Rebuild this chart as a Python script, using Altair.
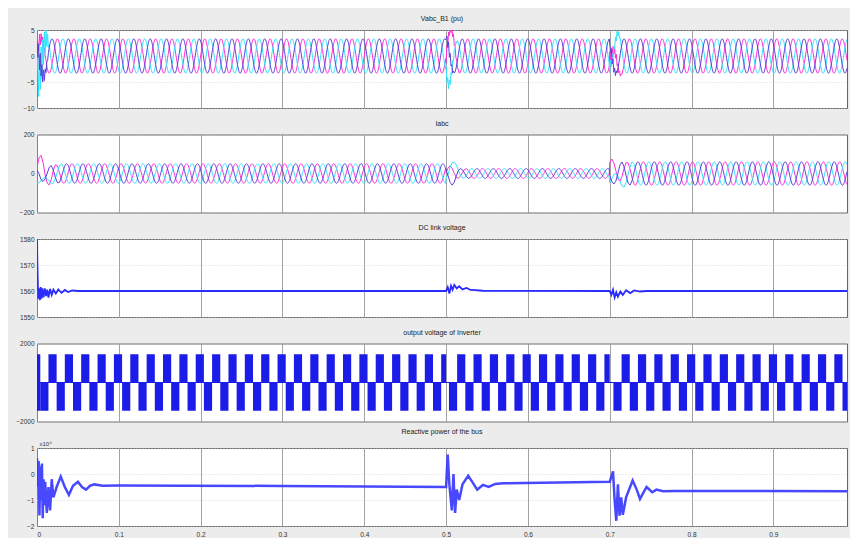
import numpy as np
import pandas as pd
import altair as alt

# ---------------- common ----------------
F_HZ = 50.0
T_END = 0.99
x_ticks = [0, 0.1, 0.2, 0.3, 0.4, 0.5, 0.6, 0.7, 0.8, 0.9]
phase_names = ["a", "b", "c"]
phase_colors = ["#ff2bd6", "#2fe3ff", "#5b3fd9"]   # magenta, cyan, purple
phase_shift_deg = [0.0, -120.0, 120.0]
event_times = [0.0, 0.5, 0.7]

# ---------------- panel 1: Vabc_B1 (pu) ----------------
v_title = "Vabc_B1 (pu)"
v_ticks = [5, 0, -5, -10]
v_seg_start = [0.0, 0.5, 0.7]
v_seg_amp = [3.3, 3.3, 3.3]
v_seg_phase = [0.0, -25.0, 15.0]
v_burst_step = 0.001
v_dev_a = [[0, 1.0, -1.0, 1.5, -1.0, 1.0, -0.5, 1.0, -0.5, 0.5, 0, 0.3, 0, 0, 0, 0, 0],
           [0, 2.5, 1.0, 3.0, 1.5, 2.8, 1.2, 2.5, 0.8, 2.0, 0.6, 1.4, 0.3, 0.8, 0.2, 0.3, 0],
           [0, -2.5, -1.0, -3.0, -1.5, -2.8, -1.2, -2.5, -0.8, -2.0, -0.6, -1.4, -0.3, -0.8, -0.2, -0.3, 0]]
v_dev_b = [[0, 3.5, -4.5, 3.2, -4.0, 3.4, -3.8, 2.8, -3.0, 2.4, -2.2, 1.8, -1.5, 1.2, -0.8, 0.4, 0],
           [0, -2.5, -1.0, -3.0, -1.5, -2.8, -1.2, -2.5, -0.8, -2.0, -0.6, -1.4, -0.3, -0.8, -0.2, -0.3, 0],
           [0, 2.5, 1.0, 3.0, 1.5, 2.8, 1.2, 2.5, 0.8, 2.0, 0.6, 1.4, 0.3, 0.8, 0.2, 0.3, 0]]
v_dev_c = [[0, -2.5, 1.0, -3.0, 1.2, -2.2, 0.8, -2.0, 0.6, -1.5, 0.4, -1.0, 0.2, -0.5, 0, 0, 0],
           [0, 0.8, -0.8, 1.0, -1.0, 0.8, -0.6, 0.5, -0.4, 0.3, 0, 0, 0, 0, 0, 0, 0],
           [0, -0.8, 0.8, -1.0, 1.0, -0.8, 0.6, -0.5, 0.4, -0.3, 0, 0, 0, 0, 0, 0, 0]]

# ---------------- panel 2: Iabc ----------------
i_title = "Iabc"
i_ticks = [200, 0, -200]
i_seg_start = [0.0, 0.5, 0.7]
i_seg_amp = [50.0, 25.0, 60.0]
i_seg_phase = [40.0, 10.0, 70.0]
i_burst_step = 0.0025
i_dev_a = [[0, 30, 55, 50, 25, 0, -20, -25, -15, -5, 0, 0, 0],
           [0, 8, 15, 10, 5, 0, 0, 0, 0, 0, 0, 0, 0],
           [0, 20, 35, 40, 30, 15, 5, 0, 0, 0, 0, 0, 0]]
i_dev_b = [[0, -20, -45, -65, -70, -55, -30, -10, 0, 5, 0, 0, 0],
           [0, 20, 40, 45, 35, 20, 10, 0, 0, 0, 0, 0, 0],
           [0, -20, -45, -60, -60, -45, -25, -10, 0, 0, 0, 0, 0]]
i_dev_c = [[0, 20, 15, 5, -10, -20, -15, -5, 0, 0, 0, 0, 0],
           [0, -15, -30, -35, -25, -10, 0, 0, 0, 0, 0, 0, 0],
           [0, 10, 5, -5, -10, -5, 0, 0, 0, 0, 0, 0, 0]]

# ---------------- panel 3: DC link voltage ----------------
dc_title = "DC link voltage"
dc_ticks = [1580, 1570, 1560, 1550]
dc_t = [0, 0.0005, 0.0015, 0.0025, 0.0035, 0.0045, 0.0055, 0.0065, 0.008, 0.0095, 0.011,
        0.0125, 0.014, 0.016, 0.018, 0.02, 0.023, 0.026, 0.03, 0.034, 0.038, 0.043, 0.05,
        0.5, 0.502, 0.504, 0.506, 0.508, 0.51, 0.513, 0.516, 0.52, 0.525, 0.53, 0.536, 0.545,
        0.7, 0.702, 0.704, 0.706, 0.708, 0.71, 0.713, 0.716, 0.72, 0.725, 0.73, 0.737, 0.745, 0.99]
dc_v = [1582, 1570, 1557, 1561, 1556.5, 1561.5, 1557, 1561, 1557.5, 1561, 1558,
        1560.5, 1557.5, 1560.8, 1558.5, 1560.5, 1559, 1560.6, 1559.3, 1560.4, 1559.6, 1560.2, 1560,
        1560, 1561.5, 1559, 1562, 1560.5, 1562.3, 1561, 1561.8, 1560.6, 1561.2, 1560.4, 1560.3, 1560.1,
        1560, 1558.5, 1560.5, 1557.5, 1559.5, 1557.8, 1559.8, 1558.5, 1560.3, 1559.2, 1560.2, 1559.8, 1560, 1560]

# ---------------- panel 4: output voltage of Inverter ----------------
inv_title = "output voltage of Inverter"
inv_ticks = [2000, 0, -2000]
inv_level = 1450
inv_start_block = [0.0, 0.004]          # full-height block at switch-on
inv_seg_first = [0.004, 0.5035, 0.7045]  # first negative block of each segment
inv_seg_end = [0.5, 0.7, 0.99]
inv_half = 0.01

# ---------------- panel 5: Reactive power of the bus (x10^4) ----------------
q_title = "Reactive power of the bus"
q_ticks = [1, 0, -1, -2]
q_t = [0, 0.001, 0.002, 0.003, 0.004, 0.005, 0.006, 0.007, 0.008, 0.009, 0.010, 0.012,
       0.014, 0.016, 0.018, 0.020, 0.024, 0.029, 0.034, 0.039, 0.044, 0.05, 0.055, 0.06,
       0.065, 0.07, 0.08, 0.1, 0.3, 0.5,
       0.502, 0.504, 0.507, 0.509, 0.511, 0.513, 0.516, 0.52, 0.527, 0.533, 0.538, 0.545,
       0.552, 0.56, 0.57, 0.7,
       0.704, 0.706, 0.708, 0.710, 0.712, 0.714, 0.716, 0.72, 0.728, 0.733, 0.737, 0.745,
       0.752, 0.757, 0.765, 0.78, 0.99]
q_v = [0.6, -0.5, 0.5, -1.6, 0.3, -1.0, 0.4, -1.7, -0.2, -1.2, -0.3, -1.5,
       -0.5, -1.4, -0.2, -0.9, -0.5, -0.1, -0.5, -0.8, -0.45, -0.3, -0.5, -0.6,
       -0.45, -0.4, -0.45, -0.44, -0.46, -0.5,
       0.75, -0.4, -1.4, 0.0, -1.5, -0.6, -1.0, -0.4, -0.07, -0.35, -0.6, -0.42,
       -0.5, -0.38, -0.36, -0.3,
       0.1, -1.0, -1.8, -0.4, -1.6, -0.9, -1.57, -0.9, -0.25, -0.6, -0.96, -0.5,
       -0.7, -0.6, -0.66, -0.65, -0.66]


# ---------------- builders ----------------
def three_phase(seg_start, seg_amp, seg_phase, step, devs, dt=0.0005):
    frames = []
    base_t = np.round(np.arange(0.0, T_END + 1e-9, dt), 6)
    for k, name in enumerate(phase_names):
        mask = np.ones(base_t.shape, bool)
        ts, ds = [], []
        for j, ev in enumerate(event_times):
            n = len(devs[k][j])
            a, b = ev, ev + step * (n - 1)
            mask &= ~((base_t >= a - 1e-9) & (base_t <= b + 1e-9))
            ts.append(ev + step * np.arange(n))
            ds.append(np.array(devs[k][j], float))
        ts.append(base_t[mask])
        ds.append(np.zeros(mask.sum()))
        t = np.concatenate(ts)
        d = np.concatenate(ds)
        o = np.argsort(t, kind="stable")
        t, d = t[o], d[o]
        idx = np.searchsorted(np.array(seg_start), t + 1e-9, side="right") - 1
        amp = np.array(seg_amp)[idx]
        ph = np.radians(np.array(seg_phase)[idx] + phase_shift_deg[k])
        y = amp * np.sin(2 * np.pi * F_HZ * t + ph) + d
        frames.append(pd.DataFrame({"t": np.round(t, 5), "v": np.round(y, 3),
                                    "phase": name, "ord": k}))
    return pd.concat(frames, ignore_index=True)


df_v = three_phase(v_seg_start, v_seg_amp, v_seg_phase, v_burst_step, [v_dev_a, v_dev_b, v_dev_c])
df_i = three_phase(i_seg_start, i_seg_amp, i_seg_phase, i_burst_step, [i_dev_a, i_dev_b, i_dev_c])
df_dc = pd.DataFrame({"t": dc_t, "v": dc_v})
df_q = pd.DataFrame({"t": q_t, "v": q_v})

blocks = [{"t0": inv_start_block[0], "t1": inv_start_block[1], "y0": -inv_level, "y1": inv_level}]
for s, e in zip(inv_seg_first, inv_seg_end):
    c = s
    while c < e:
        blocks.append({"t0": c, "t1": min(c + inv_half, e), "y0": -inv_level, "y1": 0})
        if c + inv_half < e:
            blocks.append({"t0": c + inv_half, "t1": min(c + 2 * inv_half, e), "y0": 0, "y1": inv_level})
        c += 2 * inv_half
df_inv = pd.DataFrame(blocks)
df_zero = pd.DataFrame({"t0": [0.0], "t1": [T_END], "y": [0]})

# ---------------- styling ----------------
W, H = 810, 78
FONT = "Liberation Sans"
xscale = alt.Scale(domain=[0, T_END], nice=False, zero=False)
x_hidden = alt.Axis(values=x_ticks, labels=False, ticks=False, domain=False, grid=True, title=None)
x_bottom = alt.Axis(values=x_ticks, labels=True, ticks=False, domain=False, grid=True, title=None,
                    format="~g", labelPadding=5)


def yaxis(vals, **kw):
    return alt.Axis(values=vals, ticks=False, domain=False, grid=True, labelPadding=3,
                    minExtent=25, maxExtent=25, format="d", **kw)


def ttl(text):
    return alt.TitleParams(text, fontSize=7, font=FONT, fontWeight="normal", color="#222",
                           offset=5, anchor="middle")


color = alt.Color("phase:N", scale=alt.Scale(domain=phase_names, range=phase_colors), legend=None)

p1 = alt.Chart(df_v).mark_line(clip=True, strokeWidth=1).encode(
    x=alt.X("t:Q", scale=xscale, axis=x_hidden),
    y=alt.Y("v:Q", scale=alt.Scale(domain=[-10, 5], nice=False), axis=yaxis(v_ticks, title=None)),
    color=color,
).properties(width=W, height=H, title=ttl(v_title))

p2 = alt.Chart(df_i).mark_line(clip=True, strokeWidth=1).encode(
    x=alt.X("t:Q", scale=xscale, axis=x_hidden),
    y=alt.Y("v:Q", scale=alt.Scale(domain=[-200, 200], nice=False), axis=yaxis(i_ticks, title=None)),
    color=color,
).properties(width=W, height=H, title=ttl(i_title))

p3 = alt.Chart(df_dc).mark_line(clip=True, strokeWidth=1.8, color="#2b2bff").encode(
    x=alt.X("t:Q", scale=xscale, axis=x_hidden),
    y=alt.Y("v:Q", scale=alt.Scale(domain=[1550, 1580], nice=False, zero=False),
            axis=yaxis(dc_ticks, title=None)),
).properties(width=W, height=H, title=ttl(dc_title))

inv_y = alt.Scale(domain=[-2000, 2000], nice=False)
p4_blocks = alt.Chart(df_inv).mark_rect(clip=True, color="#1c1ce8").encode(
    x=alt.X("t0:Q", scale=xscale, axis=x_hidden), x2="t1:Q",
    y=alt.Y("y0:Q", scale=inv_y, axis=yaxis(inv_ticks, title=None)), y2="y1:Q",
)
p4_zero = alt.Chart(df_zero).mark_rule(clip=True, color="#1c1ce8", strokeWidth=1).encode(
    x=alt.X("t0:Q", scale=xscale, axis=x_hidden), x2="t1:Q",
    y=alt.Y("y:Q", scale=inv_y),
)
p4 = alt.layer(p4_zero, p4_blocks).properties(width=W, height=H, title=ttl(inv_title))

p5 = alt.Chart(df_q).mark_line(clip=True, strokeWidth=2.5, color="#3434ff", opacity=0.9).encode(
    x=alt.X("t:Q", scale=xscale, axis=x_bottom),
    y=alt.Y("v:Q", scale=alt.Scale(domain=[-2, 1], nice=False),
            axis=yaxis(q_ticks, title="x10⁴", titleAngle=0, titleX=2, titleY=-2,
                       titleAlign="left", titleBaseline="bottom", titleFontSize=6,
                       titleFontWeight="normal", titleColor="#333", titleFont=FONT)),
).properties(width=W, height=H, title=ttl(q_title))

chart = alt.vconcat(p1, p2, p3, p4, p5, spacing=26.5, bounds="flush").properties(
    padding={"top": 6, "left": 3, "right": 2, "bottom": 0},
    background="#ececec",
).configure_view(
    fill="white", stroke="#666666", strokeWidth=1,
).configure_axis(
    labelFont=FONT, labelFontSize=6.5, labelColor="#333",
).configure_axisX(
    gridColor="#8a8a8a", gridWidth=0.8, gridOpacity=1,
).configure_axisY(
    gridColor="#cfcfcf", gridDash=[1, 2], gridWidth=0.8,
)

chart.save("out.html", embed_options={"renderer": "svg", "actions": False})
